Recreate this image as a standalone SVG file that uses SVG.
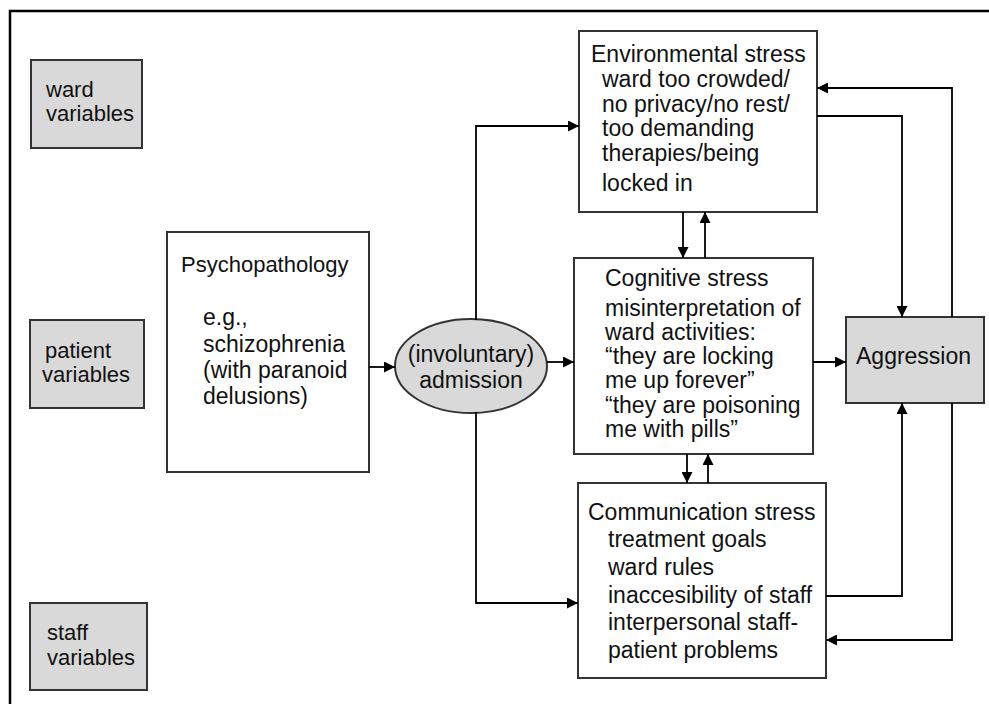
<svg xmlns="http://www.w3.org/2000/svg" width="989" height="704" viewBox="0 0 989 704">
<defs>
<marker id="arr" markerUnits="userSpaceOnUse" markerWidth="12" markerHeight="11" refX="11" refY="5.5" orient="auto">
<path d="M0,0 L11,5.5 L0,11 z" fill="#000"/>
</marker>
<style>
.box{fill:#fff;stroke:#333;stroke-width:2}
.gbox{fill:#d9d9d9;stroke:#333;stroke-width:2}
.t{font-family:"Liberation Sans",Arial,sans-serif;font-size:23px;fill:#111}
.s{font-size:22px}
.c{text-anchor:middle}
.con path{fill:none;stroke:#000;stroke-width:1.8;marker-end:url(#arr)}
</style>
</defs>
<rect width="989" height="704" fill="#fff"/>
<path d="M10,704 V11 H989" fill="none" stroke="#000" stroke-width="2.5"/>

<g id="ward">
<rect class="gbox" x="31" y="60" width="111" height="88"/>
<text class="t s" x="46" y="97">ward</text>
<text class="t s" x="46" y="121">variables</text>
</g>
<g id="patient">
<rect class="gbox" x="30" y="320" width="114" height="88"/>
<text class="t s" x="45" y="358">patient</text>
<text class="t s" x="42" y="382">variables</text>
</g>
<g id="staff">
<rect class="gbox" x="30" y="603" width="117" height="87"/>
<text class="t s" x="47" y="640">staff</text>
<text class="t s" x="47" y="665">variables</text>
</g>

<g id="psychopathology">
<rect class="box" x="167" y="232" width="202" height="240"/>
<text class="t s" x="181" y="272">Psychopathology</text>
<text class="t" x="203" y="325">e.g.,</text>
<text class="t" x="203" y="352">schizophrenia</text>
<text class="t" x="203" y="378">(with paranoid</text>
<text class="t" x="203" y="404">delusions)</text>
</g>

<g id="admission">
<ellipse cx="471" cy="366" rx="76" ry="47" fill="#d9d9d9" stroke="#333" stroke-width="2"/>
<text class="t c" x="471" y="362">(involuntary)</text>
<text class="t c" x="471" y="388">admission</text>
</g>

<g id="environmental">
<rect class="box" x="579" y="31" width="238" height="181"/>
<text class="t" x="591" y="62">Environmental stress</text>
<text class="t" x="602" y="87">ward too crowded/</text>
<text class="t" x="602" y="112">no privacy/no rest/</text>
<text class="t" x="602" y="136">too demanding</text>
<text class="t" x="602" y="161">therapies/being</text>
<text class="t" x="602" y="191">locked in</text>
</g>

<g id="cognitive">
<rect class="box" x="574" y="258" width="239" height="196"/>
<text class="t" x="605" y="286">Cognitive stress</text>
<text class="t" x="605" y="316">misinterpretation of</text>
<text class="t" x="605" y="340">ward activities:</text>
<text class="t" x="605" y="364">“they are locking</text>
<text class="t" x="605" y="388">me up forever”</text>
<text class="t" x="605" y="413">“they are poisoning</text>
<text class="t" x="605" y="437">me with pills”</text>
</g>

<g id="communication">
<rect class="box" x="578" y="483" width="248" height="195"/>
<text class="t" x="588" y="520">Communication stress</text>
<text class="t" x="608" y="547">treatment goals</text>
<text class="t" x="608" y="575">ward rules</text>
<text class="t" x="608" y="603">inaccesibility of staff</text>
<text class="t" x="608" y="630">interpersonal staff-</text>
<text class="t" x="608" y="658">patient problems</text>
</g>

<g id="aggression">
<rect class="gbox" x="846" y="317" width="138" height="86"/>
<text class="t" x="856" y="364">Aggression</text>
</g>

<g id="connectors" class="con">
<path d="M369,367 H395"/>
<path d="M547,362 H574"/>
<path d="M476,320 V126 H579"/>
<path d="M476,412 V603 H578"/>
<path d="M683,212 V258"/>
<path d="M705,258 V212"/>
<path d="M687,454 V483"/>
<path d="M708,483 V454"/>
<path d="M813,362 H846"/>
<path d="M817,116 H902 V317"/>
<path d="M952,317 V88 H817"/>
<path d="M826,596 H902 V403"/>
<path d="M952,403 V640 H826"/>
</g>
</svg>
